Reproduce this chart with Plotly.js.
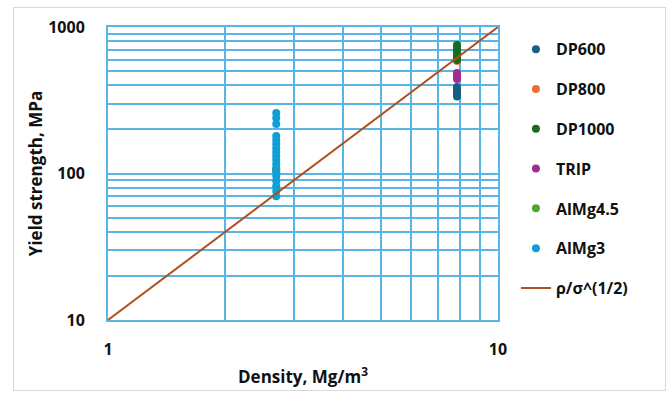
<!DOCTYPE html>
<html>
<head>
<meta charset="utf-8">
<script src="https://cdn.plot.ly/plotly-3.0.1.min.js"></script>
<style>
html,body{margin:0;padding:0;background:#fff;}
#wrap{position:relative;width:669px;height:396px;}
#frame{position:absolute;left:13px;top:7px;width:651px;height:382px;border:1px solid #d9d9d9;pointer-events:none;}
#chart{position:absolute;left:0;top:0;width:669px;height:396px;}
</style>
</head>
<body>
<div id="wrap"><div id="chart"></div><div id="frame"></div></div>
<script>
// Data
const steelDensity = 7.85;
const alDensity = 2.7;

const dp600 = [335, 345, 355, 365, 375, 390];
const dp800 = [585, 600, 620, 650, 690];
const dp1000 = [595, 620, 645, 670, 700, 730, 755];
const trip = [442, 455, 470, 485];
const almg45 = [105, 107];
const almg3 = [259, 239, 218, 180, 169, 159, 149, 140, 132, 124, 116, 109, 102, 96, 89, 82, 76, 70];

const lineX = [1, 10];
const lineY = [10, 1000];

const seriesNames = ['DP600', 'DP800', 'DP1000', 'TRIP', 'AlMg4.5', 'AlMg3'];
const seriesColors = ['#156082', '#E97132', '#196B24', '#A02B93', '#4EA72E', '#0F9ED5'];
const seriesX = [steelDensity, steelDensity, steelDensity, steelDensity, alDensity, alDensity];
const seriesY = [dp600, dp800, dp1000, trip, almg45, almg3];

const xTickVals = [1,2,3,4,5,6,7,8,9,10];
const xTickText = ['1','','','','','','','','','10'];
const yTickVals = [10,20,30,40,50,60,70,80,90,100,200,300,400,500,600,700,800,900,1000];
const yTickText = ['10','','','','','','','','','100','','','','','','','','','1000'];

const gridColor = '#5ab5e4';
const fontFam = '"Open Sans", "Liberation Sans", sans-serif';

const traces = seriesNames.map((n, i) => ({
  type: 'scatter', mode: 'markers', name: n, legendgroup: n,
  x: seriesY[i].map(() => seriesX[i]), y: seriesY[i],
  marker: {color: seriesColors[i], size: 8}
}));
traces.push({
  type: 'scatter', mode: 'lines', name: 'ρ/σ^(1/2)', legendgroup: 'line',
  x: lineX, y: lineY, line: {color: '#B0501C', width: 2}
});

const layout = {
  width: 669, height: 396,
  margin: {l: 107.5, r: 171, t: 27, b: 76},
  paper_bgcolor: '#fff', plot_bgcolor: '#fff',
  font: {family: fontFam, color: '#000'},
  showlegend: true,
  legend: {x: 1.046, xanchor: 'left', y: 0.982, yanchor: 'top', traceorder: 'grouped', tracegroupgap: 16,
           font: {size: 16, family: fontFam, weight: 'bold', color: '#111'}, bgcolor: 'rgba(0,0,0,0)'},
  xaxis: {type: 'log', range: [0, 1], tickmode: 'array', tickvals: xTickVals, ticktext: xTickText,
          showgrid: true, gridcolor: gridColor, gridwidth: 2, showline: true, linecolor: gridColor, linewidth: 2, mirror: true,
          ticks: '', ticklabelstandoff: 14, zeroline: false,
          tickfont: {size: 16, family: fontFam, weight: 'bold', color: '#111'},
          title: {text: 'Density, Mg/m<sup>3</sup>', standoff: 12, font: {size: 17, family: fontFam, weight: 'bold', color: '#111'}}},
  yaxis: {type: 'log', range: [1, 3], tickmode: 'array', tickvals: yTickVals, ticktext: yTickText,
          showgrid: true, gridcolor: gridColor, gridwidth: 2, showline: true, linecolor: gridColor, linewidth: 2, mirror: true,
          ticks: '', ticklabelstandoff: 18, zeroline: false,
          tickfont: {size: 16, family: fontFam, weight: 'bold', color: '#111'},
          title: {text: 'Yield strength, MPa', standoff: 1, font: {size: 17, family: fontFam, weight: 'bold', color: '#111'}}}
};

Plotly.newPlot('chart', traces, layout, {displayModeBar: false, staticPlot: true});
</script>
</body>
</html>
